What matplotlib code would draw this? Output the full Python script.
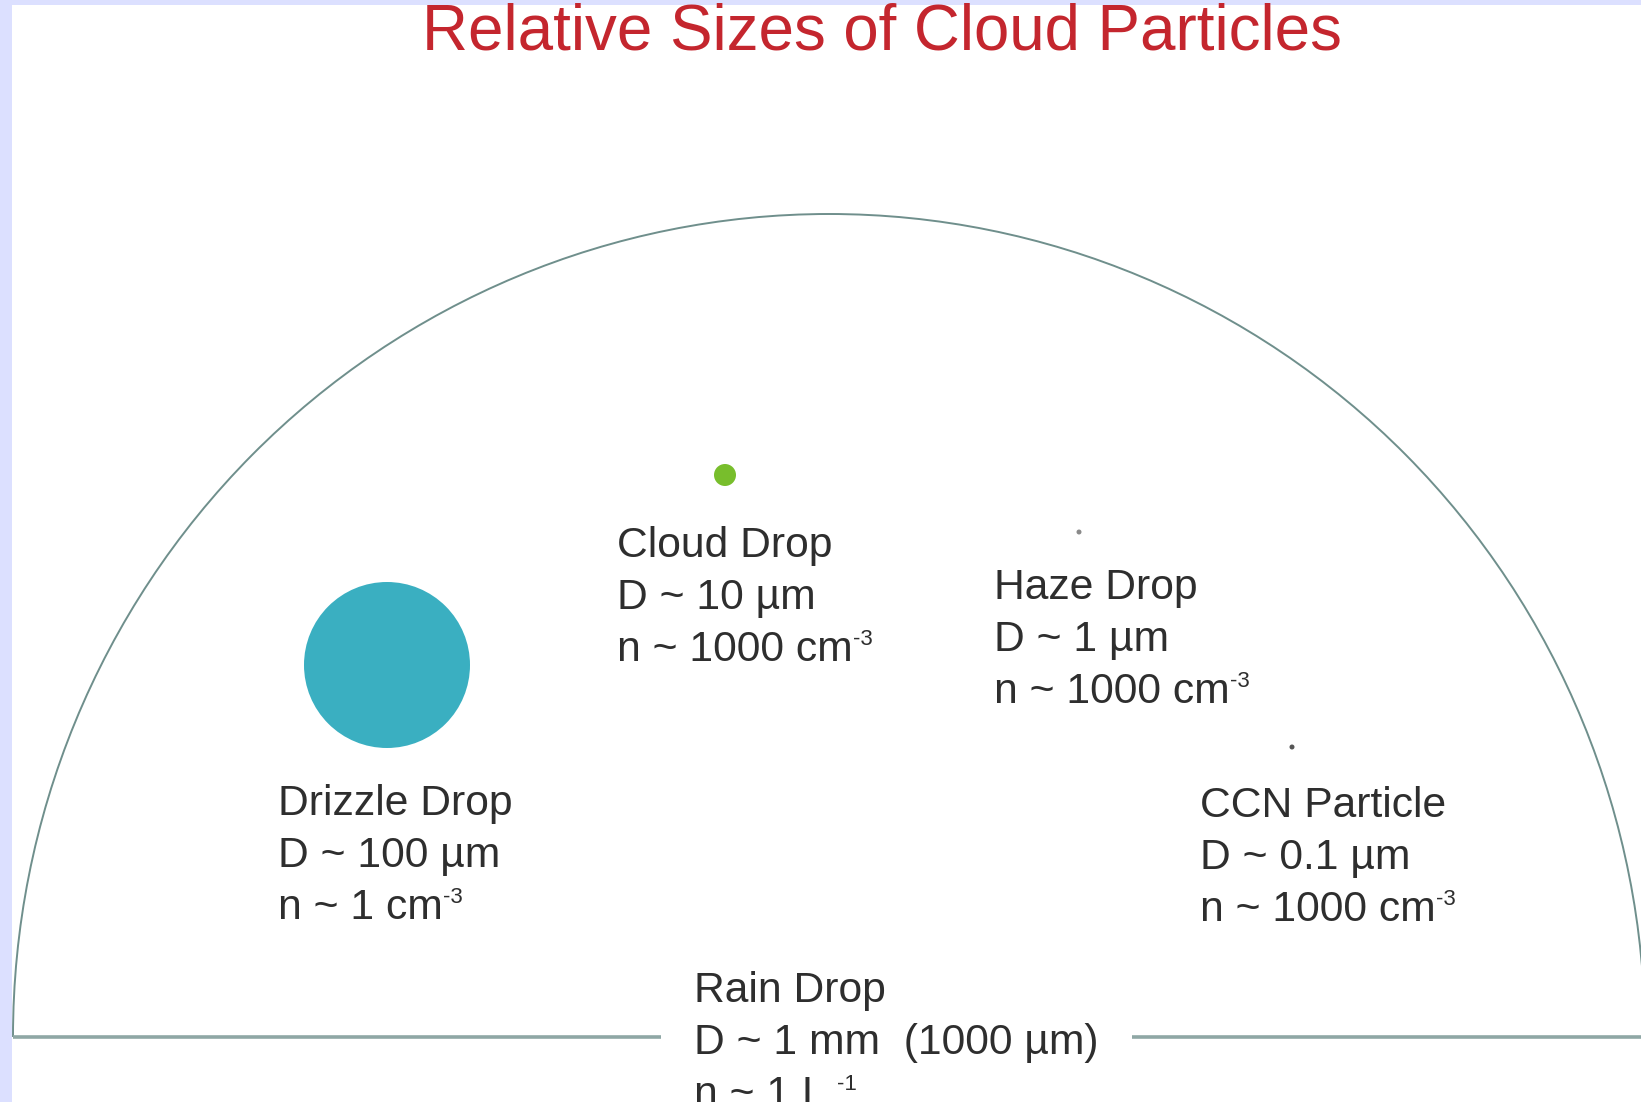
import matplotlib
matplotlib.use("Agg")
import matplotlib.pyplot as plt
from matplotlib.patches import Circle, Arc, Rectangle

plt.rcParams['font.family'] = ['Liberation Sans', 'DejaVu Sans']

# ---- data ----
title = "Relative Sizes of Cloud Particles"
particles = ["Drizzle Drop", "Cloud Drop", "Haze Drop", "CCN Particle", "Rain Drop"]
diameter_labels = ["D ~ 100 µm", "D ~ 10 µm", "D ~ 1 µm", "D ~ 0.1 µm", "D ~ 1 mm  (1000 µm)"]
concentration_base = ["n ~ 1 cm", "n ~ 1000 cm", "n ~ 1000 cm", "n ~ 1000 cm", "n ~ 1 L "]
concentration_exponent = ["-3", "-3", "-3", "-3", "-1"]
drawn_radius_px = [83, 11, 2.5, 2.5, 823]   # rain drop = the big semicircle
dot_colors = ["#3AAFC1", "#78BE2C", "#8A8A8A", "#555555", None]

# ---- layout (pixel coordinates) ----
W, H = 1641, 1102
dot_centers = [(387, 665), (725, 475), (1079, 532), (1292, 747), (829, 1037)]
label_pos = [(278, 815), (617, 557), (994, 599), (1200, 817), (694, 1002)]
line_step = 52

fig = plt.figure(figsize=(W / 100, H / 100), dpi=100, facecolor="#DCE0FF")
ax = fig.add_axes([0, 0, 1, 1])
ax.set_xlim(0, W)
ax.set_ylim(H, 0)
ax.axis("off")
ax.add_patch(Rectangle((12, 5), W - 12, H - 5, facecolor="white", edgecolor="none", zorder=0))

# rain drop semicircle and base line
cx, cy = dot_centers[4]
R = drawn_radius_px[4]
half_w = R - 7
ax.add_patch(Arc((cx, cy), 2 * half_w, 2 * R, theta1=180, theta2=360,
                 color="#6F8F8C", lw=1.4, zorder=2))
ax.plot([cx - half_w, W], [cy, cy], color="#8FA7A5", lw=2.6, zorder=2, solid_capstyle="butt")

# particle dots
for i in range(4):
    x, y = dot_centers[i]
    ax.add_patch(Circle((x, y), drawn_radius_px[i], facecolor=dot_colors[i],
                        edgecolor="none", zorder=3))

txt_kw = dict(fontsize=30.7, color="#2E2E2E", ha="left", va="baseline")
for i, name in enumerate(particles):
    x, y = label_pos[i]
    ax.text(x, y, name, zorder=6, **txt_kw)
    if i == 4:
        ax.text(x, y + line_step, diameter_labels[i], zorder=5,
                bbox=dict(boxstyle="square,pad=0.78", facecolor="white", edgecolor="none"),
                **txt_kw)
    else:
        ax.text(x, y + line_step, diameter_labels[i], zorder=6, **txt_kw)
    base = ax.text(x, y + 2 * line_step, concentration_base[i], zorder=6, **txt_kw)
    ax.annotate(concentration_exponent[i], xy=(1, 1), xycoords=base,
                xytext=(0.5, 1), textcoords="offset points",
                fontsize=16, color="#2E2E2E", ha="left", va="top", zorder=6,
                annotation_clip=False)

ax.text(882, 50, title, fontsize=45.8, color="#C4262E", ha="center", va="baseline", zorder=6)

fig.savefig("out.png", dpi=100, facecolor=fig.get_facecolor())
